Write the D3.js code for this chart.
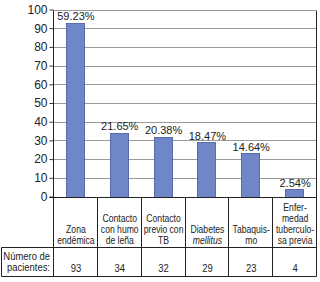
<!DOCTYPE html>
<html>
<head>
<meta charset="utf-8">
<script src="https://cdn.jsdelivr.net/npm/d3@7"></script>
<style>
  body { margin: 0; background: #fff; }
  svg text { font-family: "Liberation Sans", Arial, sans-serif; fill: #222; }
  .cat { font-size: 10.5px; }
</style>
</head>
<body>
<div id="chart"></div>
<script>
var categories = ["Zona endémica", "Contacto con humo de leña", "Contacto previo con TB",
                  "Diabetes mellitus", "Tabaquismo", "Enfermedad tuberculosa previa"];
var labelLines = [["Zona", "endémica"], ["Contacto", "con humo", "de leña"], ["Contacto", "previo con", "TB"],
                  ["Diabetes", "mellitus"], ["Tabaquis-", "mo"], ["Enfer-", "medad", "tuberculo-", "sa previa"]];
var italicWords = ["mellitus"];
var patients = [93, 34, 32, 29, 23, 4];
var percents = ["59.23%", "21.65%", "20.38%", "18.47%", "14.64%", "2.54%"];
var yTicks = [0, 10, 20, 30, 40, 50, 60, 70, 80, 90, 100];
var rowLabel = ["Número de", "pacientes:"];

var width = 320, height = 282;
var plotLeft = 53, plotRight = 316, plotTop = 9.5, plotBottom = 196.5;
var rowTop = 247, rowBottom = 276;
var squeeze = 0.82;

var svg = d3.select("#chart").append("svg")
    .attr("width", width)
    .attr("height", height);

var x = d3.scaleBand().domain(categories).range([plotLeft, plotRight]).paddingInner(0.59).paddingOuter(0.295);
var xCell = d3.scaleBand().domain(categories).range([plotLeft, plotRight]);
var y = d3.scaleLinear().domain([0, 100]).range([plotBottom, plotTop]);

// grid
svg.selectAll(".grid")
    .data(yTicks.filter(function(d) { return d > 0; }))
    .enter().append("line")
    .attr("x1", plotLeft).attr("x2", plotRight)
    .attr("y1", function(d) { return Math.round(y(d)) + 0.5; })
    .attr("y2", function(d) { return Math.round(y(d)) + 0.5; })
    .attr("stroke", "#9a9a9a");

// y axis
var yAxis = d3.axisLeft(y).tickValues(yTicks).tickSize(4).tickPadding(2);
var gy = svg.append("g")
    .attr("transform", "translate(" + (plotLeft + 0.5) + ",0)")
    .call(yAxis);
gy.select(".domain").remove();
gy.selectAll(".tick line").attr("stroke", "#333");
gy.selectAll(".tick text").attr("font-size", "12px").attr("fill", "#222")
    .attr("font-family", "'Liberation Sans', Arial, sans-serif");

// bars
svg.selectAll(".bar")
    .data(patients)
    .enter().append("rect")
    .attr("x", function(d, i) { return Math.round(x(categories[i])) + 0.5; })
    .attr("y", function(d) { return Math.round(y(d)) + 0.5; })
    .attr("width", Math.round(x.bandwidth()))
    .attr("height", function(d) { return Math.round(plotBottom) - Math.round(y(d)); })
    .attr("fill", "#6f87c7")
    .attr("stroke", "#45599a")
    .attr("stroke-width", 0.8);

svg.selectAll(".pct")
    .data(percents)
    .enter().append("text")
    .attr("x", function(d, i) { return xCell(categories[i]) + xCell.bandwidth() / 2 + 1; })
    .attr("y", function(d, i) { return y(patients[i]) - 2.5; })
    .attr("text-anchor", "middle")
    .attr("font-size", "11px")
    .text(function(d) { return d; });

// table frame
var lines = [
  [plotLeft, plotBottom, plotRight, plotBottom],
  [plotLeft - 4, plotBottom, plotLeft, plotBottom],
  [1, rowTop, plotRight, rowTop],
  [1, rowBottom, plotRight, rowBottom],
  [1, rowTop, 1, rowBottom],
  [plotLeft, plotTop, plotLeft, rowBottom],
  [plotRight, plotTop, plotRight, rowBottom]
];
xCell.domain().slice(1).forEach(function(c) {
  lines.push([xCell(c), plotBottom, xCell(c), rowBottom]);
});
svg.selectAll(".frame")
    .data(lines)
    .enter().append("line")
    .attr("x1", function(d) { return Math.round(d[0]) + 0.5; })
    .attr("y1", function(d) { return Math.round(d[1]) + 0.5; })
    .attr("x2", function(d) { return Math.round(d[2]) + 0.5; })
    .attr("y2", function(d) { return Math.round(d[3]) + 0.5; })
    .attr("stroke", "#222");

// category labels, bottom aligned, horizontally condensed
var lineH = 11;
categories.forEach(function(c, i) {
  var n = labelLines[i].length;
  var cx = xCell(c) + xCell.bandwidth() / 2 + 1;
  var t = svg.append("text")
      .attr("class", "cat")
      .attr("text-anchor", "middle")
      .attr("transform", "translate(" + cx + ",0) scale(" + squeeze + ",1)");
  labelLines[i].forEach(function(s, j) {
    t.append("tspan")
        .attr("x", 0)
        .attr("y", 244 - (n - 1 - j) * lineH)
        .attr("font-style", italicWords.indexOf(s) >= 0 ? "italic" : "normal")
        .text(s);
  });
  svg.append("text")
      .attr("class", "cat")
      .attr("text-anchor", "middle")
      .attr("transform", "translate(" + cx + ",0) scale(0.9,1)")
      .attr("x", 0)
      .attr("y", 272)
      .text(patients[i]);
});

var rl = svg.append("text").attr("class", "cat").attr("text-anchor", "end")
    .attr("transform", "translate(50,0) scale(0.9,1)");
rowLabel.forEach(function(s, j) {
  rl.append("tspan").attr("x", 0).attr("y", 260 + j * 11).text(s);
});
</script>
</body>
</html>
